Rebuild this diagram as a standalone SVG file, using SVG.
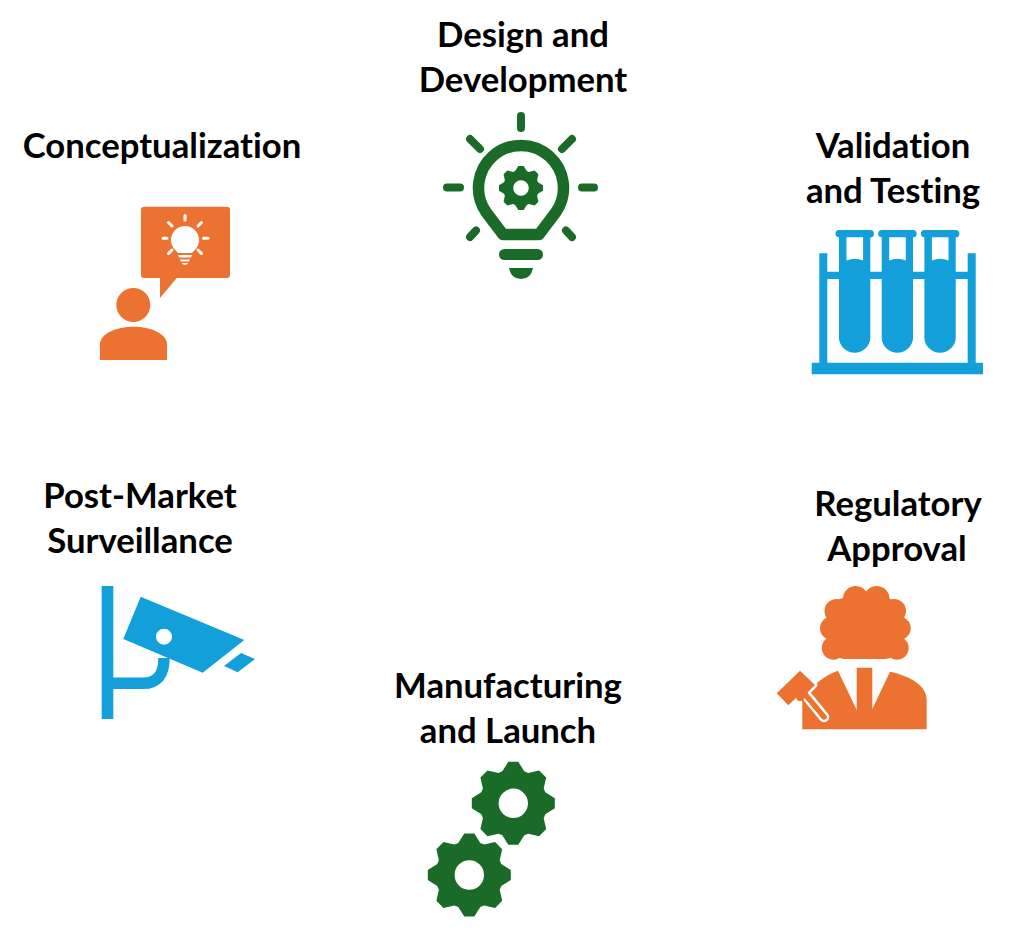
<svg xmlns="http://www.w3.org/2000/svg" width="1013" height="933" viewBox="0 0 1013 933">
<style>
.t{font-family:"Lato","Open Sans","Liberation Sans",sans-serif;font-weight:700;font-size:34.700px;fill:#000;text-anchor:middle;font-variant-ligatures:none}
.o{fill:#EC7232}.g{fill:#1A6B27}.b{fill:#129FDA}
.ray{stroke:#1A6B27;stroke-width:8;stroke-linecap:round;fill:none}
.wr{stroke:#fff;stroke-width:3;stroke-linecap:round;fill:none}
</style>
<defs>
<path id="gear" fill-rule="evenodd" d="M-5-41.5L5-41.5L11-32L14.85-30.4L25.8-32.9L32.9-25.8L30.4-14.85L32-11L41.5-5L41.5 5L32 11L30.4 14.85L32.9 25.8L25.8 32.9L14.85 30.4L11 32L5 41.5L-5 41.5L-11 32L-14.85 30.4L-25.8 32.9L-32.9 25.8L-30.4 14.85L-32 11L-41.5 5L-41.5-5L-32-11L-30.4-14.85L-32.9-25.8L-25.8-32.9L-14.85-30.4L-11-32ZM14.7 0A14.7 14.7 0 1 0-14.7 0A14.7 14.7 0 1 0 14.7 0Z"/>
<g id="tube"><path class="b" fill-rule="evenodd" d="M-15.500 230H15.500A3.650 3.650 0 0 1 15.500 237.300V339A15.800 16 0 0 1-15.800 339V237.300A3.650 3.650 0 0 1-15.500 230ZM-8.300 237.300V260.500Q0 257 8.300 260.500V237.300Z"/></g>
</defs>
<g id="conceptualization">
<text class="t" x="162" y="158">Conceptualization</text>
<path class="o" d="M144 206.700H227A3 3 0 0 1 230 209.700V275A3 3 0 0 1 227 278H176.700L160 298V278H144A3 3 0 0 1 141 275V209.700A3 3 0 0 1 144 206.700Z"/>
<circle class="o" cx="133.300" cy="305" r="17"/>
<path class="o" d="M100 360V344C100 334 116 326.700 133.500 326.700S167 334 167 344V360Z"/>
<path fill="#fff" d="M185 226A14 14 0 0 1 196.500 248L192 253H178L173.500 248A14 14 0 0 1 185 226ZM178 255H192L191 257.500H179ZM180 259.500H190L189 261.500H181ZM181.500 263H188.500Q185 267 181.500 263Z"/>
<path class="wr" d="M185 215.500V220M168.500 222.500L172 226M201.500 222.500L198 226M163 238.300H167M203.500 238.300H208M168.500 253.500L172 250M201.500 253.500L198 250"/>
</g>
<g id="design-and-development">
<text class="t" x="523" y="47">Design and</text>
<text class="t" x="523" y="92">Development</text>
<path class="ray" d="M521 116V128M470 139L480 149M572 139L562 149M447 187.500H460M582 187.500H594M476 230.500L470 237M566 230.500L572 237"/>
<path d="M503 234.500L486 212A42.500 42.500 0 1 1 556 212L539 234.500Z" fill="none" stroke="#1A6B27" stroke-width="11.500" stroke-linejoin="round"/>
<use href="#gear" class="g" transform="translate(521 188) scale(.53)"/>
<rect class="g" x="499" y="249" width="44" height="11" rx="5.500"/>
<path class="g" d="M509 268H533Q531 279 521 279T509 268Z"/>
</g>
<g id="validation-and-testing">
<text class="t" x="893" y="158">Validation</text>
<text class="t" x="893" y="203">and Testing</text>
<path class="b" d="M811.700 362.700H819.300V253.300H827.300V271.700H967.700V253.300H975.700V362.700H983V374.300H811.700ZM827.300 279V362.700H967.700V279Z" fill-rule="evenodd"/>
<use href="#tube" x="854.800"/>
<use href="#tube" x="897.500"/>
<use href="#tube" x="940.200"/>
</g>
<g id="regulatory-approval">
<text class="t" x="898" y="516">Regulatory</text>
<text class="t" x="897" y="561">Approval</text>
<g class="o">
<circle cx="855.700" cy="598.800" r="12.800"/><circle cx="876.700" cy="598.800" r="12.800"/>
<circle cx="836.500" cy="611" r="12"/><circle cx="894" cy="611" r="12"/>
<circle cx="831.700" cy="628.300" r="11.700"/><circle cx="899" cy="628.300" r="11.700"/>
<circle cx="833.500" cy="648" r="11.700"/><circle cx="897" cy="648" r="11.700"/>
<rect x="834" y="598" width="62" height="61" rx="10"/>
</g>
<path class="o" d="M802.300 729.300V698L812 690L818 682Q828 674 838 670.700L856.700 710V667.700H872.300V709L890 671.700C910 676 926.700 685 926.700 700V729.300Z"/>
<path d="M776.700 693.300L800 670.700L815 685L808 692L803 697L798 701L796 698L788.300 705.300Z" fill="#fff" stroke="#fff" stroke-width="5" stroke-linejoin="round"/>
<path d="M806 695L824 717" stroke="#fff" stroke-width="10.500" stroke-linecap="round" fill="none"/>
<path class="o" d="M776.700 693.300L800 670.700L815 685L808 692L803 701L798 701L796 698L788.300 705.300Z"/>
<path d="M804 693L824 717" stroke="#EC7232" stroke-width="5.500" stroke-linecap="round" fill="none"/>
</g>
<g id="post-market-surveillance">
<text class="t" x="140" y="508">Post-Market</text>
<text class="t" x="140" y="553">Surveillance</text>
<rect class="b" x="101.700" y="586" width="11.600" height="133"/>
<path d="M113 683.300H143Q164 683.300 164 658" fill="none" stroke="#129FDA" stroke-width="11.500"/>
<path class="b" fill-rule="evenodd" d="M140.700 596.700L244.300 640L202.700 672.700L123.300 639ZM172 636.700A8 8 0 1 0 156 636.700A8 8 0 1 0 172 636.700Z"/>
<path class="b" d="M241 653L255 659L237.700 672.300L224 666Z"/>
</g>
<g id="manufacturing-and-launch">
<text class="t" x="508" y="698">Manufacturing</text>
<text class="t" x="508" y="743">and Launch</text>
<use href="#gear" class="g" transform="translate(513.300 803.300)"/>
<use href="#gear" class="g" transform="translate(469.300 875)"/>
</g>
<g id="connectors"/>
</svg>
